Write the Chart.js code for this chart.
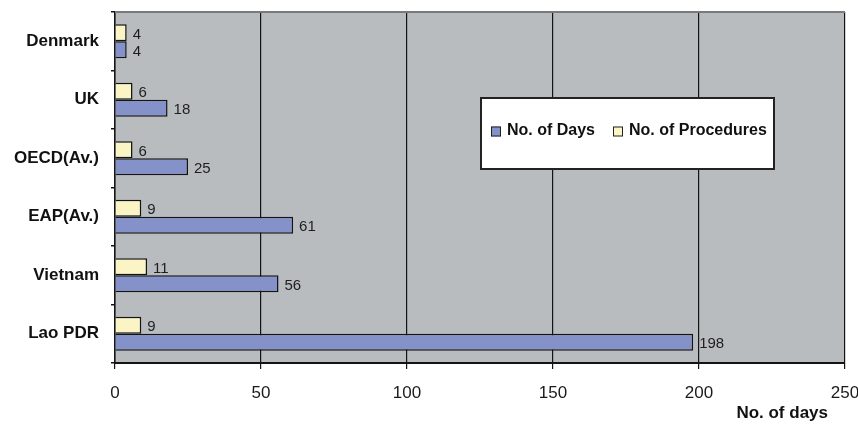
<!DOCTYPE html>
<html>
<head>
<meta charset="utf-8">
<title>Days and procedures</title>
<script src="https://cdn.jsdelivr.net/npm/chart.js@4.4.1/dist/chart.umd.min.js"></script>
<style>
  html, body { margin: 0; padding: 0; background: #ffffff; }
  #wrap { width: 858px; height: 424px; }
</style>
</head>
<body>
<div id="wrap"><canvas id="chart" width="858" height="424"></canvas></div>
<script>
// Countries / groups, top to bottom
const categories = ['Denmark', 'UK', 'OECD(Av.)', 'EAP(Av.)', 'Vietnam', 'Lao PDR'];
// Number of days
const daysValues = [4, 18, 25, 61, 56, 198];
// Number of procedures
const procedureValues = [4, 6, 6, 9, 11, 9];
// Value axis ticks
const xTicks = [0, 50, 100, 150, 200, 250];
const xAxisTitle = 'No. of days';
const seriesNames = { days: 'No. of Days', procedures: 'No. of Procedures' };

const FONT = '"Liberation Sans", Arial, Helvetica, sans-serif';
const COLOR_DAYS = '#8592ca';
const COLOR_PROC = '#fbf5c6';
const PLOT_BG = '#b8bcbe';
const INK = '#141414';

// Grey plot area plus its grey top edge
const plotBackground = {
  id: 'plotBackground',
  beforeDraw(chart) {
    const { ctx, chartArea: a } = chart;
    ctx.save();
    ctx.fillStyle = PLOT_BG;
    ctx.fillRect(a.left, a.top, a.right - a.left, a.bottom - a.top);
    ctx.restore();
  },
  afterDraw(chart) {
    const { ctx, chartArea: a } = chart;
    ctx.save();
    ctx.strokeStyle = '#7a7a7a';
    ctx.lineWidth = 2;
    ctx.beginPath();
    ctx.moveTo(a.left, a.top);
    ctx.lineTo(a.right, a.top);
    ctx.stroke();
    ctx.restore();
  }
};

// Value printed just past the end of each bar
const barValues = {
  id: 'barValues',
  afterDatasetsDraw(chart) {
    const { ctx } = chart;
    ctx.save();
    ctx.font = '15px ' + FONT;
    ctx.fillStyle = '#1e1e1e';
    ctx.textAlign = 'left';
    ctx.textBaseline = 'middle';
    chart.data.datasets.forEach((ds, di) => {
      const meta = chart.getDatasetMeta(di);
      meta.data.forEach((el, i) => {
        ctx.fillText(String(ds.data[i]), el.x + 6, el.y + 2);
      });
    });
    ctx.restore();
  }
};

// Boxed legend inside the plot, plus the value-axis caption
const legendBox = {
  id: 'legendBox',
  afterDraw(chart) {
    const { ctx, chartArea: a } = chart;
    const left = a.left + 366, top = a.top + 86, w = 293, h = 71;
    ctx.save();
    ctx.fillStyle = '#ffffff';
    ctx.fillRect(left, top, w, h);
    ctx.strokeStyle = '#222';
    ctx.lineWidth = 2;
    ctx.strokeRect(left, top, w, h);

    const order = [1, 0]; // days first, then procedures
    const xs = [left + 10, left + 132];
    const cy = top + 33;
    ctx.font = 'bold 16px ' + FONT;
    ctx.textBaseline = 'middle';
    ctx.textAlign = 'left';
    order.forEach((di, k) => {
      const ds = chart.data.datasets[di];
      ctx.fillStyle = ds.backgroundColor;
      ctx.fillRect(xs[k], cy - 4.5, 10, 10);
      ctx.strokeStyle = '#222';
      ctx.lineWidth = 1;
      ctx.strokeRect(xs[k] + 0.5, cy - 4, 9, 9);
      ctx.fillStyle = '#111';
      ctx.fillText(ds.label, xs[k] + 16, cy);
    });

    ctx.font = 'bold 17px ' + FONT;
    ctx.textAlign = 'right';
    ctx.fillStyle = '#111';
    ctx.fillText(xAxisTitle, a.right - 17, 413);
    ctx.restore();
  }
};

new Chart(document.getElementById('chart'), {
  type: 'bar',
  data: {
    labels: categories,
    datasets: [
      {
        label: seriesNames.procedures,
        data: procedureValues,
        backgroundColor: COLOR_PROC,
        borderColor: INK,
        borderWidth: 1.5,
        categoryPercentage: 0.58,
        barPercentage: 1.0
      },
      {
        label: seriesNames.days,
        data: daysValues,
        backgroundColor: COLOR_DAYS,
        borderColor: INK,
        borderWidth: 1.5,
        categoryPercentage: 0.58,
        barPercentage: 1.0
      }
    ]
  },
  options: {
    indexAxis: 'y',
    responsive: false,
    animation: false,
    devicePixelRatio: 1,
    layout: { padding: { top: 12, right: 13, left: 0, bottom: 0 } },
    plugins: {
      legend: { display: false },
      tooltip: { enabled: false }
    },
    scales: {
      x: {
        type: 'linear',
        min: xTicks[0],
        max: xTicks[xTicks.length - 1],
        afterBuildTicks(scale) { scale.ticks = xTicks.map(v => ({ value: v })); },
        afterFit(scale) {
          scale.height = 61;
          scale.paddingLeft = 0;
          scale.paddingRight = 0;
        },
        grid: {
          color: INK,
          lineWidth: 1.2,
          drawTicks: true,
          tickLength: 6,
          tickColor: INK
        },
        border: { display: true, color: INK, width: 2 },
        ticks: {
          font: { family: FONT, size: 17 },
          color: '#1a1a1a',
          padding: 14,
          maxRotation: 0
        }
      },
      y: {
        type: 'category',
        afterFit(scale) {
          scale.width = 115;
          scale.paddingTop = 0;
          scale.paddingBottom = 0;
        },
        grid: {
          offset: true,
          drawOnChartArea: false,
          drawTicks: true,
          tickLength: 4,
          color: INK,
          lineWidth: 1.5
        },
        border: { display: true, color: INK, width: 1.5 },
        ticks: {
          font: { family: FONT, size: 17, weight: 'bold' },
          color: '#111',
          padding: 12
        }
      }
    }
  },
  plugins: [plotBackground, barValues, legendBox]
});
</script>
</body>
</html>
